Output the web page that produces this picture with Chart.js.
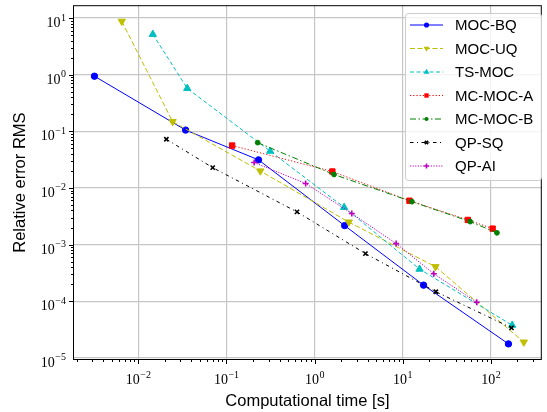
<!DOCTYPE html>
<html>
<head>
<meta charset="utf-8">
<script src="https://cdn.jsdelivr.net/npm/chart.js@4.4.1/dist/chart.umd.min.js"></script>
<style>
  html, body { margin: 0; padding: 0; background: #fff; overflow: hidden; }
  #chart { display: block; }
</style>
</head>
<body>
<canvas id="chart" width="547" height="412"></canvas>
<script>
// values (log-log)
const mocBqTime = [0.00318, 0.0344, 0.231, 2.19, 17.2, 158];
const mocBqErr = [0.94, 0.105, 0.0313, 0.00216, 1.92e-4, 1.76e-5];
const mocUqTime = [0.00649, 0.0245, 0.242, 2.44, 23.5, 236];
const mocUqErr = [8.75, 0.148, 0.0199, 0.00249, 4.06e-4, 1.89e-5];
const tsMocTime = [0.0146, 0.0359, 0.313, 2.16, 15.5, 174];
const tsMocErr = [5.17, 0.573, 0.0446, 0.00454, 3.68e-4, 3.76e-5];
const mcMocATime = [0.116, 1.59, 11.9, 54.7, 104.5];
const mcMocAErr = [0.056, 0.0195, 0.00594, 0.00272, 0.00191];
const mcMocBTime = [0.226, 1.66, 12.7, 58.2, 117];
const mcMocBErr = [0.063, 0.01726, 0.00572, 0.00254, 0.00161];
const qpSqTime = [0.0208, 0.0698, 0.631, 3.77, 23.7, 171];
const qpSqErr = [0.0724, 0.0228, 0.00377, 6.92e-4, 1.47e-4, 3.37e-5];
const qpAiTime = [0.206, 0.791, 2.64, 8.41, 22.5, 69];
const qpAiErr = [0.0281, 0.0120, 0.00353, 0.00104, 3.05e-4, 9.55e-5];

const seriesNames = ['MOC-BQ', 'MOC-UQ', 'TS-MOC', 'MC-MOC-A', 'MC-MOC-B', 'QP-SQ', 'QP-AI'];

// tick labels: decades 10^n
const xTickExps = [-2, -1, 0, 1, 2];
const yTickExps = [-5, -4, -3, -2, -1, 0, 1];

const xMin = Math.pow(10, -2.741), xMax = Math.pow(10, 2.577);
const yMin = Math.pow(10, -5.039), yMax = Math.pow(10, 1.227);

function toPoints(xs, ys) {
  return xs.map((v, i) => ({ x: v, y: ys[i] }));
}

function isDecade(v) {
  const l = Math.log10(v);
  return Math.abs(l - Math.round(l)) < 1e-6;
}

// style of each series (color, dash, marker)
const styles = [
  { color: '#0000ff', dash: [], marker: 'circle', r: 3.2, rot: 0 },
  { color: '#bfbf00', dash: [5, 2.5], marker: 'triangle', r: 4.2, rot: 180 },
  { color: '#00bfbf', dash: [4, 2.5], marker: 'triangle', r: 4.2, rot: 0 },
  { color: '#ff0000', dash: [1.2, 2], marker: 'rect', r: 3.8, rot: 0 },
  { color: '#008000', dash: [6, 2.5, 1.5, 2.5], marker: 'circle', r: 2.4, rot: 0 },
  { color: '#000000', dash: [3.5, 3.5, 1, 3.5], marker: 'crossRot', r: 3, rot: 0 },
  { color: '#bf00bf', dash: [1.2, 1.4], marker: 'cross', r: 3, rot: 0 }
];

const seriesData = [
  toPoints(mocBqTime, mocBqErr),
  toPoints(mocUqTime, mocUqErr),
  toPoints(tsMocTime, tsMocErr),
  toPoints(mcMocATime, mcMocAErr),
  toPoints(mcMocBTime, mcMocBErr),
  toPoints(qpSqTime, qpSqErr),
  toPoints(qpAiTime, qpAiErr)
];

const datasets = seriesData.map((pts, i) => ({
  label: seriesNames[i],
  data: pts,
  borderColor: styles[i].color,
  backgroundColor: styles[i].color,
  borderWidth: 1,
  borderDash: styles[i].dash,
  pointStyle: styles[i].marker,
  pointRadius: styles[i].r,
  pointRotation: styles[i].rot,
  pointBorderWidth: (styles[i].marker.indexOf('cross') === 0) ? 1.6 : 1,
  pointHoverRadius: styles[i].r,
  tension: 0,
  fill: false,
  order: seriesData.length - i
}));

// small marker for the legend
function drawMarker(ctx, st, x, y, r) {
  ctx.save();
  ctx.fillStyle = st.color;
  ctx.strokeStyle = st.color;
  ctx.setLineDash([]);
  ctx.lineWidth = 1;
  ctx.beginPath();
  if (st.marker === 'circle') {
    ctx.arc(x, y, r, 0, Math.PI * 2);
    ctx.fill();
  } else if (st.marker === 'triangle') {
    const s = st.rot === 180 ? -1 : 1;
    ctx.moveTo(x, y - s * r);
    ctx.lineTo(x + r * 0.866, y + s * r * 0.5);
    ctx.lineTo(x - r * 0.866, y + s * r * 0.5);
    ctx.closePath();
    ctx.fill();
  } else if (st.marker === 'rect') {
    const h = r * 0.72;
    ctx.rect(x - h, y - h, 2 * h, 2 * h);
    ctx.fill();
  } else if (st.marker === 'crossRot') {
    ctx.lineWidth = 1.6;
    ctx.moveTo(x - r * 0.7, y - r * 0.7); ctx.lineTo(x + r * 0.7, y + r * 0.7);
    ctx.moveTo(x - r * 0.7, y + r * 0.7); ctx.lineTo(x + r * 0.7, y - r * 0.7);
    ctx.stroke();
  } else if (st.marker === 'cross') {
    ctx.lineWidth = 1.6;
    ctx.moveTo(x - r, y); ctx.lineTo(x + r, y);
    ctx.moveTo(x, y - r); ctx.lineTo(x, y + r);
    ctx.stroke();
  }
  ctx.restore();
}

function drawPow(ctx, exp, x, y, align) {
  const base = '10';
  const sup = (exp < 0 ? '\u2212' : '') + Math.abs(exp);
  ctx.font = '14px "Liberation Serif", serif';
  const wb = ctx.measureText(base).width;
  ctx.font = '10px "Liberation Serif", serif';
  const ws = ctx.measureText(sup).width;
  const total = wb + ws + 0.5;
  let left = align === 'right' ? x - total : x - total / 2;
  ctx.textAlign = 'left';
  ctx.textBaseline = 'alphabetic';
  ctx.font = '14px "Liberation Serif", serif';
  ctx.fillText(base, left, y);
  ctx.font = '10px "Liberation Serif", serif';
  ctx.fillText(sup, left + wb + 0.5, y - 6.5);
}

const decorPlugin = {
  id: 'decor',
  afterDraw(chart) {
    const ctx = chart.ctx;
    const a = chart.chartArea;
    const xs = chart.scales.x, ys = chart.scales.y;
    ctx.save();

    // frame
    ctx.strokeStyle = '#000';
    ctx.lineWidth = 1;
    ctx.setLineDash([]);
    ctx.strokeRect(a.left + 0.5, a.top + 0.5, a.right - a.left - 1, a.bottom - a.top - 1);

    // major + minor ticks
    ctx.beginPath();
    for (let e = -4; e <= 3; e++) {
      for (let m = 1; m <= 9; m++) {
        const v = m * Math.pow(10, e);
        const len = m === 1 ? 4 : 2;
        if (v >= xMin && v <= xMax) {
          const px = Math.round(xs.getPixelForValue(v)) + 0.5;
          ctx.moveTo(px, a.bottom);
          ctx.lineTo(px, a.bottom + len);
        }
        if (v >= yMin && v <= yMax) {
          const py = Math.round(ys.getPixelForValue(v)) + 0.5;
          ctx.moveTo(a.left, py);
          ctx.lineTo(a.left - len, py);
        }
      }
    }
    ctx.stroke();

    // tick labels
    ctx.fillStyle = '#000';
    xTickExps.forEach(e => {
      drawPow(ctx, e, xs.getPixelForValue(Math.pow(10, e)), a.bottom + 24, 'center');
    });
    yTickExps.forEach(e => {
      drawPow(ctx, e, a.left - 7, ys.getPixelForValue(Math.pow(10, e)) + 9, 'right');
    });

    // axis titles
    ctx.font = '16.5px "Liberation Sans", sans-serif';
    ctx.textAlign = 'center';
    ctx.textBaseline = 'alphabetic';
    ctx.fillText('Computational time [s]', (a.left + a.right) / 2, 406);
    ctx.save();
    ctx.translate(25, (a.top + a.bottom) / 2);
    ctx.rotate(-Math.PI / 2);
    ctx.fillText('Relative error RMS', 0, 0);
    ctx.restore();

    // legend
    const bx = 405, by = 13, bw = 136, bh = 167;
    ctx.beginPath();
    ctx.roundRect(bx + 0.5, by + 0.5, bw, bh, 3);
    ctx.fillStyle = 'rgba(255,255,255,0.8)';
    ctx.fill();
    ctx.strokeStyle = '#cccccc';
    ctx.lineWidth = 1;
    ctx.stroke();
    seriesNames.forEach((name, i) => {
      const st = styles[i];
      const ly = 25 + i * 23.5;
      ctx.beginPath();
      ctx.strokeStyle = st.color;
      ctx.lineWidth = 1;
      ctx.setLineDash(st.dash);
      ctx.moveTo(410, ly);
      ctx.lineTo(443, ly);
      ctx.stroke();
      ctx.setLineDash([]);
      drawMarker(ctx, st, 426.5, ly, st.r * 0.8);
      ctx.fillStyle = '#000';
      ctx.font = '15px "Liberation Sans", sans-serif';
      ctx.textAlign = 'left';
      ctx.textBaseline = 'middle';
      ctx.fillText(name, 455, ly + 1);
    });

    ctx.restore();
  }
};

new Chart(document.getElementById('chart'), {
  type: 'line',
  data: { datasets: datasets },
  options: {
    responsive: false,
    animation: false,
    devicePixelRatio: 1,
    layout: { padding: { top: 4, right: 1, left: 0, bottom: 0 } },
    plugins: {
      legend: { display: false },
      tooltip: { enabled: false }
    },
    scales: {
      x: {
        type: 'logarithmic',
        min: xMin,
        max: xMax,
        border: { display: false },
        grid: {
          color: c => (c.tick && isDecade(c.tick.value)) ? '#c6c6c6' : 'rgba(0,0,0,0)',
          lineWidth: 1.2,
          drawTicks: false
        },
        ticks: { display: false },
        afterFit: s => { s.height = 52; }
      },
      y: {
        type: 'logarithmic',
        min: yMin,
        max: yMax,
        border: { display: false },
        grid: {
          color: c => (c.tick && isDecade(c.tick.value)) ? '#c6c6c6' : 'rgba(0,0,0,0)',
          lineWidth: 1.2,
          drawTicks: false
        },
        ticks: { display: false },
        afterFit: s => { s.width = 73; }
      }
    }
  },
  plugins: [decorPlugin]
});
</script>
</body>
</html>
